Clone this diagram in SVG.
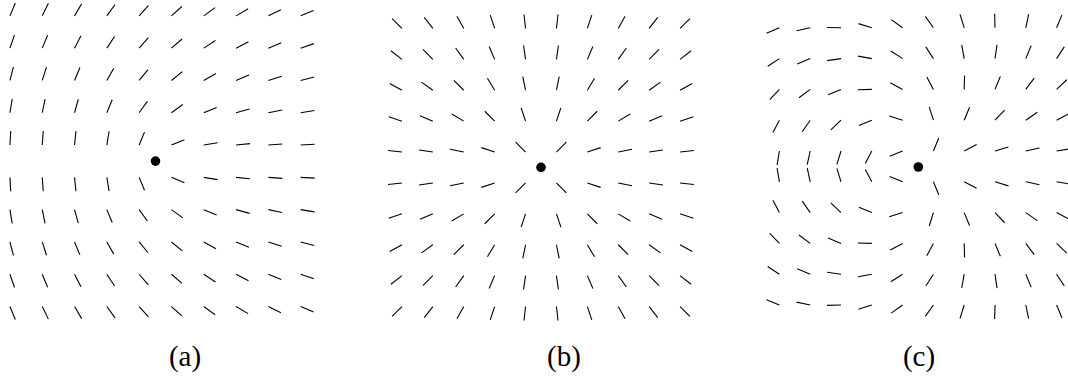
<svg xmlns="http://www.w3.org/2000/svg" width="1068" height="377" viewBox="0 0 1068 377">
<style>
.field{stroke:#000;stroke-width:1.1;fill:none}
.seg{stroke:#000;stroke-width:1.1}
.dot{fill:#000}
.lbl{font-family:"Liberation Serif","DejaVu Serif",serif;font-size:29px;fill:#000;text-anchor:middle}
</style>
<defs>
<line id="s" class="seg" x1="0" y1="0" x2="14" y2="0"/>
</defs>
<rect width="1068" height="377" fill="#fff"/>

<g id="panel-a">
<g class="field" transform="translate(155.3,161.2)">
<g transform="translate(0,-145.35)"><use href="#s" transform="translate(-145.35,0) rotate(-67.5)"/><use href="#s" transform="translate(-113.05,0) rotate(-63.94)"/><use href="#s" transform="translate(-80.75,0) rotate(-59.53)"/><use href="#s" transform="translate(-48.45,0) rotate(-54.22)"/><use href="#s" transform="translate(-16.15,0) rotate(-48.17)"/><use href="#s" transform="translate(16.15,0) rotate(-41.83)"/><use href="#s" transform="translate(48.45,0) rotate(-35.78)"/><use href="#s" transform="translate(80.75,0) rotate(-30.47)"/><use href="#s" transform="translate(113.05,0) rotate(-26.06)"/><use href="#s" transform="translate(145.35,0) rotate(-22.5)"/></g>
<g transform="translate(0,-113.05)"><use href="#s" transform="translate(-145.35,0) rotate(-71.06)"/><use href="#s" transform="translate(-113.05,0) rotate(-67.5)"/><use href="#s" transform="translate(-80.75,0) rotate(-62.77)"/><use href="#s" transform="translate(-48.45,0) rotate(-56.6)"/><use href="#s" transform="translate(-16.15,0) rotate(-49.06)"/><use href="#s" transform="translate(16.15,0) rotate(-40.94)"/><use href="#s" transform="translate(48.45,0) rotate(-33.4)"/><use href="#s" transform="translate(80.75,0) rotate(-27.23)"/><use href="#s" transform="translate(113.05,0) rotate(-22.5)"/><use href="#s" transform="translate(145.35,0) rotate(-18.94)"/></g>
<g transform="translate(0,-80.75)"><use href="#s" transform="translate(-145.35,0) rotate(-75.47)"/><use href="#s" transform="translate(-113.05,0) rotate(-72.23)"/><use href="#s" transform="translate(-80.75,0) rotate(-67.5)"/><use href="#s" transform="translate(-48.45,0) rotate(-60.48)"/><use href="#s" transform="translate(-16.15,0) rotate(-50.65)"/><use href="#s" transform="translate(16.15,0) rotate(-39.35)"/><use href="#s" transform="translate(48.45,0) rotate(-29.52)"/><use href="#s" transform="translate(80.75,0) rotate(-22.5)"/><use href="#s" transform="translate(113.05,0) rotate(-17.77)"/><use href="#s" transform="translate(145.35,0) rotate(-14.53)"/></g>
<g transform="translate(0,-48.45)"><use href="#s" transform="translate(-145.35,0) rotate(-80.78)"/><use href="#s" transform="translate(-113.05,0) rotate(-78.4)"/><use href="#s" transform="translate(-80.75,0) rotate(-74.52)"/><use href="#s" transform="translate(-48.45,0) rotate(-67.5)"/><use href="#s" transform="translate(-16.15,0) rotate(-54.22)"/><use href="#s" transform="translate(16.15,0) rotate(-35.78)"/><use href="#s" transform="translate(48.45,0) rotate(-22.5)"/><use href="#s" transform="translate(80.75,0) rotate(-15.48)"/><use href="#s" transform="translate(113.05,0) rotate(-11.6)"/><use href="#s" transform="translate(145.35,0) rotate(-9.22)"/></g>
<g transform="translate(0,-16.15)"><use href="#s" transform="translate(-145.35,0) rotate(-86.83)"/><use href="#s" transform="translate(-113.05,0) rotate(-85.93)"/><use href="#s" transform="translate(-80.75,0) rotate(-84.34)"/><use href="#s" transform="translate(-48.45,0) rotate(-80.78)"/><use href="#s" transform="translate(-16.15,0) rotate(-67.5)"/><use href="#s" transform="translate(16.15,0) rotate(-22.5)"/><use href="#s" transform="translate(48.45,0) rotate(-9.22)"/><use href="#s" transform="translate(80.75,0) rotate(-5.66)"/><use href="#s" transform="translate(113.05,0) rotate(-4.07)"/><use href="#s" transform="translate(145.35,0) rotate(-3.17)"/></g>
<g transform="translate(0,16.15)"><use href="#s" transform="translate(-145.35,0) rotate(86.83)"/><use href="#s" transform="translate(-113.05,0) rotate(85.93)"/><use href="#s" transform="translate(-80.75,0) rotate(84.34)"/><use href="#s" transform="translate(-48.45,0) rotate(80.78)"/><use href="#s" transform="translate(-16.15,0) rotate(67.5)"/><use href="#s" transform="translate(16.15,0) rotate(22.5)"/><use href="#s" transform="translate(48.45,0) rotate(9.22)"/><use href="#s" transform="translate(80.75,0) rotate(5.66)"/><use href="#s" transform="translate(113.05,0) rotate(4.07)"/><use href="#s" transform="translate(145.35,0) rotate(3.17)"/></g>
<g transform="translate(0,48.45)"><use href="#s" transform="translate(-145.35,0) rotate(80.78)"/><use href="#s" transform="translate(-113.05,0) rotate(78.4)"/><use href="#s" transform="translate(-80.75,0) rotate(74.52)"/><use href="#s" transform="translate(-48.45,0) rotate(67.5)"/><use href="#s" transform="translate(-16.15,0) rotate(54.22)"/><use href="#s" transform="translate(16.15,0) rotate(35.78)"/><use href="#s" transform="translate(48.45,0) rotate(22.5)"/><use href="#s" transform="translate(80.75,0) rotate(15.48)"/><use href="#s" transform="translate(113.05,0) rotate(11.6)"/><use href="#s" transform="translate(145.35,0) rotate(9.22)"/></g>
<g transform="translate(0,80.75)"><use href="#s" transform="translate(-145.35,0) rotate(75.47)"/><use href="#s" transform="translate(-113.05,0) rotate(72.23)"/><use href="#s" transform="translate(-80.75,0) rotate(67.5)"/><use href="#s" transform="translate(-48.45,0) rotate(60.48)"/><use href="#s" transform="translate(-16.15,0) rotate(50.65)"/><use href="#s" transform="translate(16.15,0) rotate(39.35)"/><use href="#s" transform="translate(48.45,0) rotate(29.52)"/><use href="#s" transform="translate(80.75,0) rotate(22.5)"/><use href="#s" transform="translate(113.05,0) rotate(17.77)"/><use href="#s" transform="translate(145.35,0) rotate(14.53)"/></g>
<g transform="translate(0,113.05)"><use href="#s" transform="translate(-145.35,0) rotate(71.06)"/><use href="#s" transform="translate(-113.05,0) rotate(67.5)"/><use href="#s" transform="translate(-80.75,0) rotate(62.77)"/><use href="#s" transform="translate(-48.45,0) rotate(56.6)"/><use href="#s" transform="translate(-16.15,0) rotate(49.06)"/><use href="#s" transform="translate(16.15,0) rotate(40.94)"/><use href="#s" transform="translate(48.45,0) rotate(33.4)"/><use href="#s" transform="translate(80.75,0) rotate(27.23)"/><use href="#s" transform="translate(113.05,0) rotate(22.5)"/><use href="#s" transform="translate(145.35,0) rotate(18.94)"/></g>
<g transform="translate(0,145.35)"><use href="#s" transform="translate(-145.35,0) rotate(67.5)"/><use href="#s" transform="translate(-113.05,0) rotate(63.94)"/><use href="#s" transform="translate(-80.75,0) rotate(59.53)"/><use href="#s" transform="translate(-48.45,0) rotate(54.22)"/><use href="#s" transform="translate(-16.15,0) rotate(48.17)"/><use href="#s" transform="translate(16.15,0) rotate(41.83)"/><use href="#s" transform="translate(48.45,0) rotate(35.78)"/><use href="#s" transform="translate(80.75,0) rotate(30.47)"/><use href="#s" transform="translate(113.05,0) rotate(26.06)"/><use href="#s" transform="translate(145.35,0) rotate(22.5)"/></g>
</g>
<circle class="dot" cx="155.5" cy="161.1" r="4.8"/>
<text class="lbl" x="185" y="366">(a)</text>
</g>

<g id="panel-b">
<g class="field" transform="translate(541,167.5)">
<g transform="translate(0,-139.05)"><use href="#s" transform="translate(-139.05,0) rotate(-135)"/><use href="#s" transform="translate(-108.15,0) rotate(-127.88)"/><use href="#s" transform="translate(-77.25,0) rotate(-119.06)"/><use href="#s" transform="translate(-46.35,0) rotate(-108.44)"/><use href="#s" transform="translate(-15.45,0) rotate(-96.34)"/><use href="#s" transform="translate(15.45,0) rotate(-83.66)"/><use href="#s" transform="translate(46.35,0) rotate(-71.57)"/><use href="#s" transform="translate(77.25,0) rotate(-60.95)"/><use href="#s" transform="translate(108.15,0) rotate(-52.13)"/><use href="#s" transform="translate(139.05,0) rotate(-45)"/></g>
<g transform="translate(0,-108.15)"><use href="#s" transform="translate(-139.05,0) rotate(-142.13)"/><use href="#s" transform="translate(-108.15,0) rotate(-135)"/><use href="#s" transform="translate(-77.25,0) rotate(-125.54)"/><use href="#s" transform="translate(-46.35,0) rotate(-113.2)"/><use href="#s" transform="translate(-15.45,0) rotate(-98.13)"/><use href="#s" transform="translate(15.45,0) rotate(-81.87)"/><use href="#s" transform="translate(46.35,0) rotate(-66.8)"/><use href="#s" transform="translate(77.25,0) rotate(-54.46)"/><use href="#s" transform="translate(108.15,0) rotate(-45)"/><use href="#s" transform="translate(139.05,0) rotate(-37.88)"/></g>
<g transform="translate(0,-77.25)"><use href="#s" transform="translate(-139.05,0) rotate(-150.95)"/><use href="#s" transform="translate(-108.15,0) rotate(-144.46)"/><use href="#s" transform="translate(-77.25,0) rotate(-135)"/><use href="#s" transform="translate(-46.35,0) rotate(-120.96)"/><use href="#s" transform="translate(-15.45,0) rotate(-101.31)"/><use href="#s" transform="translate(15.45,0) rotate(-78.69)"/><use href="#s" transform="translate(46.35,0) rotate(-59.04)"/><use href="#s" transform="translate(77.25,0) rotate(-45)"/><use href="#s" transform="translate(108.15,0) rotate(-35.54)"/><use href="#s" transform="translate(139.05,0) rotate(-29.06)"/></g>
<g transform="translate(0,-46.35)"><use href="#s" transform="translate(-139.05,0) rotate(-161.57)"/><use href="#s" transform="translate(-108.15,0) rotate(-156.8)"/><use href="#s" transform="translate(-77.25,0) rotate(-149.04)"/><use href="#s" transform="translate(-46.35,0) rotate(-135)"/><use href="#s" transform="translate(-15.45,0) rotate(-108.44)"/><use href="#s" transform="translate(15.45,0) rotate(-71.57)"/><use href="#s" transform="translate(46.35,0) rotate(-45)"/><use href="#s" transform="translate(77.25,0) rotate(-30.96)"/><use href="#s" transform="translate(108.15,0) rotate(-23.2)"/><use href="#s" transform="translate(139.05,0) rotate(-18.44)"/></g>
<g transform="translate(0,-15.45)"><use href="#s" transform="translate(-139.05,0) rotate(-173.66)"/><use href="#s" transform="translate(-108.15,0) rotate(-171.87)"/><use href="#s" transform="translate(-77.25,0) rotate(-168.69)"/><use href="#s" transform="translate(-46.35,0) rotate(-161.57)"/><use href="#s" transform="translate(-15.45,0) rotate(-135)"/><use href="#s" transform="translate(15.45,0) rotate(-45)"/><use href="#s" transform="translate(46.35,0) rotate(-18.44)"/><use href="#s" transform="translate(77.25,0) rotate(-11.31)"/><use href="#s" transform="translate(108.15,0) rotate(-8.13)"/><use href="#s" transform="translate(139.05,0) rotate(-6.34)"/></g>
<g transform="translate(0,15.45)"><use href="#s" transform="translate(-139.05,0) rotate(173.66)"/><use href="#s" transform="translate(-108.15,0) rotate(171.87)"/><use href="#s" transform="translate(-77.25,0) rotate(168.69)"/><use href="#s" transform="translate(-46.35,0) rotate(161.57)"/><use href="#s" transform="translate(-15.45,0) rotate(135)"/><use href="#s" transform="translate(15.45,0) rotate(45)"/><use href="#s" transform="translate(46.35,0) rotate(18.44)"/><use href="#s" transform="translate(77.25,0) rotate(11.31)"/><use href="#s" transform="translate(108.15,0) rotate(8.13)"/><use href="#s" transform="translate(139.05,0) rotate(6.34)"/></g>
<g transform="translate(0,46.35)"><use href="#s" transform="translate(-139.05,0) rotate(161.57)"/><use href="#s" transform="translate(-108.15,0) rotate(156.8)"/><use href="#s" transform="translate(-77.25,0) rotate(149.04)"/><use href="#s" transform="translate(-46.35,0) rotate(135)"/><use href="#s" transform="translate(-15.45,0) rotate(108.44)"/><use href="#s" transform="translate(15.45,0) rotate(71.57)"/><use href="#s" transform="translate(46.35,0) rotate(45)"/><use href="#s" transform="translate(77.25,0) rotate(30.96)"/><use href="#s" transform="translate(108.15,0) rotate(23.2)"/><use href="#s" transform="translate(139.05,0) rotate(18.44)"/></g>
<g transform="translate(0,77.25)"><use href="#s" transform="translate(-139.05,0) rotate(150.95)"/><use href="#s" transform="translate(-108.15,0) rotate(144.46)"/><use href="#s" transform="translate(-77.25,0) rotate(135)"/><use href="#s" transform="translate(-46.35,0) rotate(120.96)"/><use href="#s" transform="translate(-15.45,0) rotate(101.31)"/><use href="#s" transform="translate(15.45,0) rotate(78.69)"/><use href="#s" transform="translate(46.35,0) rotate(59.04)"/><use href="#s" transform="translate(77.25,0) rotate(45)"/><use href="#s" transform="translate(108.15,0) rotate(35.54)"/><use href="#s" transform="translate(139.05,0) rotate(29.06)"/></g>
<g transform="translate(0,108.15)"><use href="#s" transform="translate(-139.05,0) rotate(142.13)"/><use href="#s" transform="translate(-108.15,0) rotate(135)"/><use href="#s" transform="translate(-77.25,0) rotate(125.54)"/><use href="#s" transform="translate(-46.35,0) rotate(113.2)"/><use href="#s" transform="translate(-15.45,0) rotate(98.13)"/><use href="#s" transform="translate(15.45,0) rotate(81.87)"/><use href="#s" transform="translate(46.35,0) rotate(66.8)"/><use href="#s" transform="translate(77.25,0) rotate(54.46)"/><use href="#s" transform="translate(108.15,0) rotate(45)"/><use href="#s" transform="translate(139.05,0) rotate(37.88)"/></g>
<g transform="translate(0,139.05)"><use href="#s" transform="translate(-139.05,0) rotate(135)"/><use href="#s" transform="translate(-108.15,0) rotate(127.88)"/><use href="#s" transform="translate(-77.25,0) rotate(119.06)"/><use href="#s" transform="translate(-46.35,0) rotate(108.44)"/><use href="#s" transform="translate(-15.45,0) rotate(96.34)"/><use href="#s" transform="translate(15.45,0) rotate(83.66)"/><use href="#s" transform="translate(46.35,0) rotate(71.57)"/><use href="#s" transform="translate(77.25,0) rotate(60.95)"/><use href="#s" transform="translate(108.15,0) rotate(52.13)"/><use href="#s" transform="translate(139.05,0) rotate(45)"/></g>
</g>
<circle class="dot" cx="541" cy="167.4" r="4.8"/>
<text class="lbl" x="564" y="366">(b)</text>
</g>

<g id="panel-c">
<g class="field" transform="translate(918,166.4)">
<g transform="translate(0,-138.6)"><use href="#s" transform="translate(-138.6,0) rotate(-202.5)"/><use href="#s" transform="translate(-107.8,0) rotate(-191.81)"/><use href="#s" transform="translate(-77,0) rotate(-178.58)"/><use href="#s" transform="translate(-46.2,0) rotate(-162.65)"/><use href="#s" transform="translate(-15.4,0) rotate(-144.51)"/><use href="#s" transform="translate(15.4,0) rotate(-125.49)"/><use href="#s" transform="translate(46.2,0) rotate(-107.35)"/><use href="#s" transform="translate(77,0) rotate(-91.42)"/><use href="#s" transform="translate(107.8,0) rotate(-78.19)"/><use href="#s" transform="translate(138.6,0) rotate(-67.5)"/></g>
<g transform="translate(0,-107.8)"><use href="#s" transform="translate(-138.6,0) rotate(-213.19)"/><use href="#s" transform="translate(-107.8,0) rotate(-202.5)"/><use href="#s" transform="translate(-77,0) rotate(-188.31)"/><use href="#s" transform="translate(-46.2,0) rotate(-169.8)"/><use href="#s" transform="translate(-15.4,0) rotate(-147.19)"/><use href="#s" transform="translate(15.4,0) rotate(-122.81)"/><use href="#s" transform="translate(46.2,0) rotate(-100.2)"/><use href="#s" transform="translate(77,0) rotate(-81.69)"/><use href="#s" transform="translate(107.8,0) rotate(-67.5)"/><use href="#s" transform="translate(138.6,0) rotate(-56.81)"/></g>
<g transform="translate(0,-77)"><use href="#s" transform="translate(-138.6,0) rotate(-226.42)"/><use href="#s" transform="translate(-107.8,0) rotate(-216.69)"/><use href="#s" transform="translate(-77,0) rotate(-202.5)"/><use href="#s" transform="translate(-46.2,0) rotate(-181.45)"/><use href="#s" transform="translate(-15.4,0) rotate(-151.96)"/><use href="#s" transform="translate(15.4,0) rotate(-118.04)"/><use href="#s" transform="translate(46.2,0) rotate(-88.55)"/><use href="#s" transform="translate(77,0) rotate(-67.5)"/><use href="#s" transform="translate(107.8,0) rotate(-53.31)"/><use href="#s" transform="translate(138.6,0) rotate(-43.58)"/></g>
<g transform="translate(0,-46.2)"><use href="#s" transform="translate(-138.6,0) rotate(-242.35)"/><use href="#s" transform="translate(-107.8,0) rotate(-235.2)"/><use href="#s" transform="translate(-77,0) rotate(-223.55)"/><use href="#s" transform="translate(-46.2,0) rotate(-202.5)"/><use href="#s" transform="translate(-15.4,0) rotate(-162.65)"/><use href="#s" transform="translate(15.4,0) rotate(-107.35)"/><use href="#s" transform="translate(46.2,0) rotate(-67.5)"/><use href="#s" transform="translate(77,0) rotate(-46.45)"/><use href="#s" transform="translate(107.8,0) rotate(-34.8)"/><use href="#s" transform="translate(138.6,0) rotate(-27.65)"/></g>
<g transform="translate(0,-15.4)"><use href="#s" transform="translate(-138.6,0) rotate(-260.49)"/><use href="#s" transform="translate(-107.8,0) rotate(-257.8)"/><use href="#s" transform="translate(-77,0) rotate(-253.03)"/><use href="#s" transform="translate(-46.2,0) rotate(-242.35)"/><use href="#s" transform="translate(-15.4,0) rotate(-202.5)"/><use href="#s" transform="translate(15.4,0) rotate(-67.5)"/><use href="#s" transform="translate(46.2,0) rotate(-27.65)"/><use href="#s" transform="translate(77,0) rotate(-16.97)"/><use href="#s" transform="translate(107.8,0) rotate(-12.2)"/><use href="#s" transform="translate(138.6,0) rotate(-9.51)"/></g>
<g transform="translate(0,15.4)"><use href="#s" transform="translate(-138.6,0) rotate(260.49)"/><use href="#s" transform="translate(-107.8,0) rotate(257.8)"/><use href="#s" transform="translate(-77,0) rotate(253.03)"/><use href="#s" transform="translate(-46.2,0) rotate(242.35)"/><use href="#s" transform="translate(-15.4,0) rotate(202.5)"/><use href="#s" transform="translate(15.4,0) rotate(67.5)"/><use href="#s" transform="translate(46.2,0) rotate(27.65)"/><use href="#s" transform="translate(77,0) rotate(16.97)"/><use href="#s" transform="translate(107.8,0) rotate(12.2)"/><use href="#s" transform="translate(138.6,0) rotate(9.51)"/></g>
<g transform="translate(0,46.2)"><use href="#s" transform="translate(-138.6,0) rotate(242.35)"/><use href="#s" transform="translate(-107.8,0) rotate(235.2)"/><use href="#s" transform="translate(-77,0) rotate(223.55)"/><use href="#s" transform="translate(-46.2,0) rotate(202.5)"/><use href="#s" transform="translate(-15.4,0) rotate(162.65)"/><use href="#s" transform="translate(15.4,0) rotate(107.35)"/><use href="#s" transform="translate(46.2,0) rotate(67.5)"/><use href="#s" transform="translate(77,0) rotate(46.45)"/><use href="#s" transform="translate(107.8,0) rotate(34.8)"/><use href="#s" transform="translate(138.6,0) rotate(27.65)"/></g>
<g transform="translate(0,77)"><use href="#s" transform="translate(-138.6,0) rotate(226.42)"/><use href="#s" transform="translate(-107.8,0) rotate(216.69)"/><use href="#s" transform="translate(-77,0) rotate(202.5)"/><use href="#s" transform="translate(-46.2,0) rotate(181.45)"/><use href="#s" transform="translate(-15.4,0) rotate(151.96)"/><use href="#s" transform="translate(15.4,0) rotate(118.04)"/><use href="#s" transform="translate(46.2,0) rotate(88.55)"/><use href="#s" transform="translate(77,0) rotate(67.5)"/><use href="#s" transform="translate(107.8,0) rotate(53.31)"/><use href="#s" transform="translate(138.6,0) rotate(43.58)"/></g>
<g transform="translate(0,107.8)"><use href="#s" transform="translate(-138.6,0) rotate(213.19)"/><use href="#s" transform="translate(-107.8,0) rotate(202.5)"/><use href="#s" transform="translate(-77,0) rotate(188.31)"/><use href="#s" transform="translate(-46.2,0) rotate(169.8)"/><use href="#s" transform="translate(-15.4,0) rotate(147.19)"/><use href="#s" transform="translate(15.4,0) rotate(122.81)"/><use href="#s" transform="translate(46.2,0) rotate(100.2)"/><use href="#s" transform="translate(77,0) rotate(81.69)"/><use href="#s" transform="translate(107.8,0) rotate(67.5)"/><use href="#s" transform="translate(138.6,0) rotate(56.81)"/></g>
<g transform="translate(0,138.6)"><use href="#s" transform="translate(-138.6,0) rotate(202.5)"/><use href="#s" transform="translate(-107.8,0) rotate(191.81)"/><use href="#s" transform="translate(-77,0) rotate(178.58)"/><use href="#s" transform="translate(-46.2,0) rotate(162.65)"/><use href="#s" transform="translate(-15.4,0) rotate(144.51)"/><use href="#s" transform="translate(15.4,0) rotate(125.49)"/><use href="#s" transform="translate(46.2,0) rotate(107.35)"/><use href="#s" transform="translate(77,0) rotate(91.42)"/><use href="#s" transform="translate(107.8,0) rotate(78.19)"/><use href="#s" transform="translate(138.6,0) rotate(67.5)"/></g>
</g>
<circle class="dot" cx="918.3" cy="167" r="4.8"/>
<text class="lbl" x="919" y="366">(c)</text>
</g>
</svg>
